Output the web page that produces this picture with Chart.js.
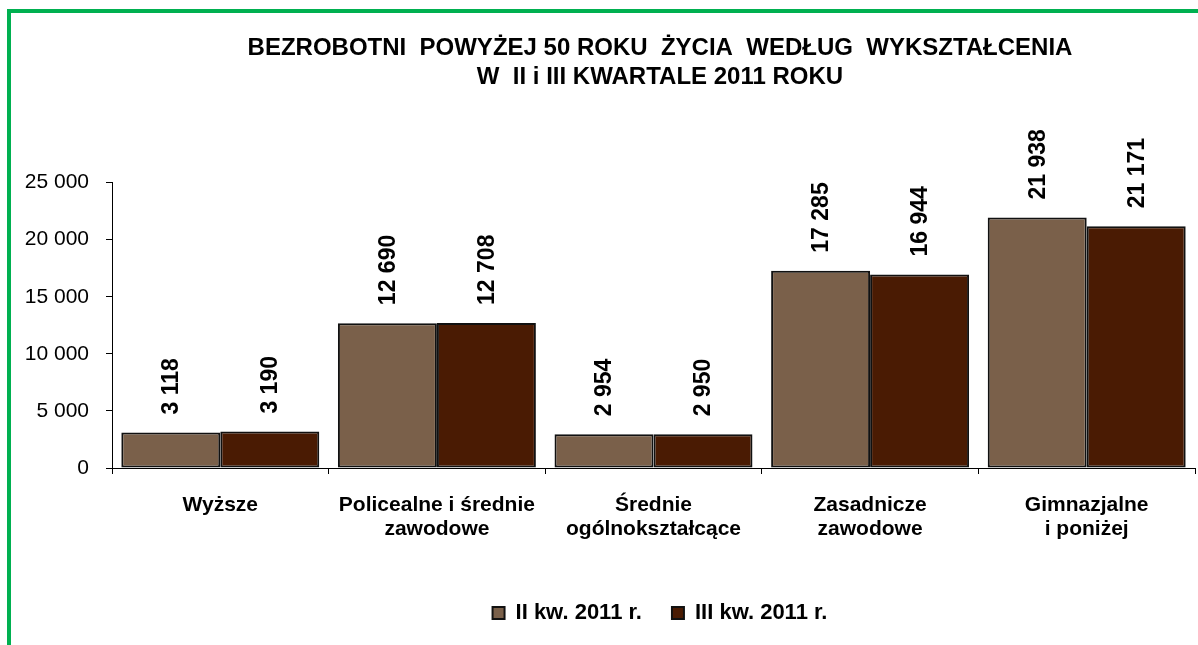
<!DOCTYPE html>
<html>
<head>
<meta charset="utf-8">
<script src="https://cdn.jsdelivr.net/npm/chart.js@4.4.0/dist/chart.umd.min.js"></script>
<style>
  html, body { margin: 0; padding: 0; overflow: hidden; background: #fff; }
  #frame { position: absolute; left: 7px; top: 9px; width: 2000px; height: 2000px; border: 4px solid #00B050; }
  #wrap { position: absolute; left: 0; top: 0; width: 1320px; height: 645px; }
</style>
</head>
<body>
<div id="frame"></div>
<div id="wrap"><canvas id="chart"></canvas></div>
<script>
var categories = [
  "Wyższe",
  ["Policealne i średnie", "zawodowe"],
  ["Średnie", "ogólnokształcące"],
  ["Zasadnicze", "zawodowe"],
  ["Gimnazjalne", "i poniżej"]
];
var seriesNames = ["II kw. 2011 r.", "III kw. 2011 r."];
var q2Values = [3118, 12690, 2954, 17285, 21938];
var q3Values = [3190, 12708, 2950, 16944, 21171];
var yTicks = [0, 5000, 10000, 15000, 20000, 25000];

var fontFamily = "'Liberation Sans', Arial, sans-serif";

// number with space as thousands separator
function fmt(v) {
  return String(v).replace(/\B(?=(\d{3})+(?!\d))/g, " ");
}

// rotated value labels above bars
var valueLabels = {
  id: "valueLabels",
  afterDatasetsDraw: function (chart) {
    var ctx = chart.ctx;
    ctx.save();
    ctx.font = "bold 23px " + fontFamily;
    ctx.fillStyle = "#000";
    ctx.textAlign = "left";
    ctx.textBaseline = "middle";
    chart.data.datasets.forEach(function (ds, i) {
      chart.getDatasetMeta(i).data.forEach(function (bar, j) {
        ctx.save();
        ctx.translate(bar.x, bar.y - 18);
        ctx.rotate(-Math.PI / 2);
        ctx.fillText(fmt(ds.data[j]), 0, 1);
        ctx.restore();
      });
    });
    ctx.restore();
  }
};

var ctx = document.getElementById("chart").getContext("2d");
var chart = new Chart(ctx, {
  type: "bar",
  data: {
    labels: categories,
    datasets: [
      {
        label: seriesNames[0],
        data: q2Values,
        backgroundColor: "#7A604A",
        borderColor: "#111",
        borderWidth: 2,
        borderSkipped: false
      },
      {
        label: seriesNames[1],
        data: q3Values,
        backgroundColor: "#4A1B03",
        borderColor: "#111",
        borderWidth: 2,
        borderSkipped: false
      }
    ]
  },
  options: {
    responsive: true,
    maintainAspectRatio: false,
    animation: false,
    categoryPercentage: 0.914,
    barPercentage: 1,
    layout: { padding: { top: 34, bottom: 11, left: 0, right: 0 } },
    plugins: {
      tooltip: { enabled: false },
      title: {
        display: true,
        text: [
          "BEZROBOTNI  POWYŻEJ 50 ROKU  ŻYCIA  WEDŁUG  WYKSZTAŁCENIA",
          "W  II i III KWARTALE 2011 ROKU"
        ],
        color: "#000",
        font: { family: fontFamily, size: 24, weight: "bold", lineHeight: 1.2 },
        padding: { top: 0, bottom: 91 }
      },
      legend: {
        position: "bottom",
        labels: {
          color: "#000",
          font: { family: fontFamily, size: 22, weight: "bold" },
          boxWidth: 12,
          boxHeight: 12,
          padding: 30,
          generateLabels: function (chart) {
            return chart.data.datasets.map(function (ds, i) {
              return {
                text: ds.label,
                fillStyle: ds.backgroundColor,
                strokeStyle: "#111",
                lineWidth: 2,
                datasetIndex: i
              };
            });
          }
        }
      }
    },
    scales: {
      x: {
        grid: { display: true, drawOnChartArea: false, offset: true, tickLength: 6, color: "#000" },
        border: { display: true, color: "#000", width: 1 },
        ticks: {
          color: "#000",
          padding: 19,
          maxRotation: 0,
          autoSkip: false,
          font: { family: fontFamily, size: 21, weight: "bold", lineHeight: 1.143 }
        },
        afterFit: function (axis) { axis.height = 104; }
      },
      y: {
        min: 0,
        max: 25000,
        afterBuildTicks: function (axis) {
          axis.ticks = yTicks.map(function (v) { return { value: v }; });
        },
        grid: { display: true, drawOnChartArea: false, tickLength: 6, color: "#000" },
        border: { display: true, color: "#000", width: 1 },
        ticks: {
          color: "#000",
          padding: 17,
          font: { family: fontFamily, size: 21 },
          callback: function (v) { return fmt(v); }
        },
        afterFit: function (axis) { axis.width = 112; }
      },
      // empty right axis, keeps the chart area the same as the reference
      yRight: {
        position: "right",
        display: true,
        grid: { display: false },
        border: { display: false },
        ticks: { display: false },
        afterFit: function (axis) { axis.width = 125; }
      }
    }
  },
  plugins: [valueLabels]
});
</script>
</body>
</html>
